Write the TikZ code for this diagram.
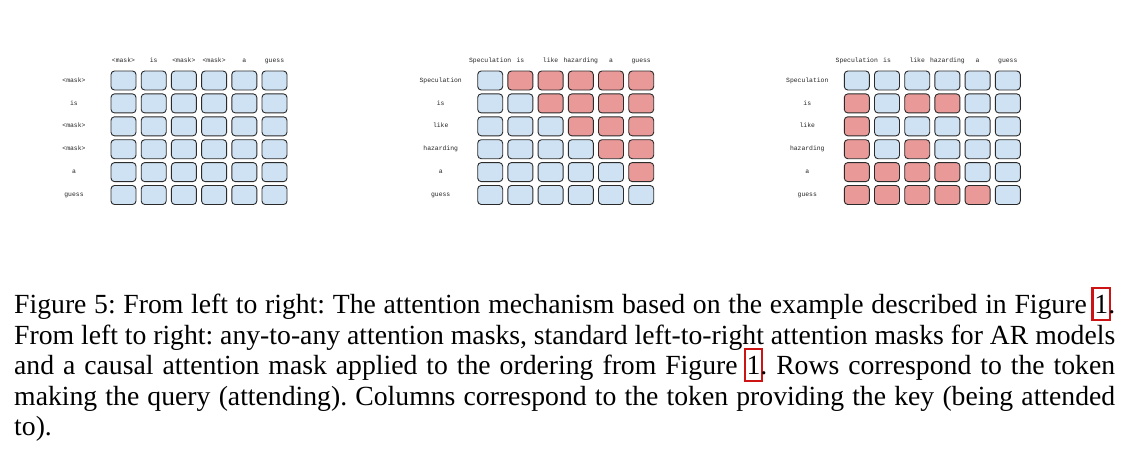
\documentclass[tikz,border=0pt]{standalone}
\usepackage{fontspec}
\setmainfont{Liberation Serif}
\newfontfamily\lblfont{Liberation Mono}
\definecolor{bluec}{HTML}{CFE2F3}
\definecolor{redc}{HTML}{EA9999}
\definecolor{cellline}{HTML}{2B2B2B}
\definecolor{linkred}{HTML}{CC1414}
\makeatletter
\newcommand\setcellfill[3]{\edef\tmpcheck{\noexpand\in@{,#2-#3,}{,#1,}}\tmpcheck
  \ifin@\def\cellcol{redc}\else\def\cellcol{bluec}\fi}
\makeatother
% hyperref-style red link box around a reference number
\newcommand\lnk[1]{\leavevmode\rlap{\kern-3pt\color{linkred}%
  \rlap{\vrule width 19.6pt height 27pt depth -24.8pt}%
  \rlap{\vrule width 19.6pt height -5.4pt depth 7.6pt}%
  \rlap{\vrule width 2.2pt height 27pt depth 7.6pt}%
  \kern17.4pt\vrule width 2.2pt height 27pt depth 7.6pt}#1}
\def\redsA{0-0}
\def\redsB{1-2,1-3,1-4,1-5,1-6,2-3,2-4,2-5,2-6,3-4,3-5,3-6,4-5,4-6,5-6}
\def\redsC{2-1,2-3,2-4,3-1,4-1,4-3,5-1,5-2,5-3,5-4,6-1,6-2,6-3,6-4,6-5}
\def\toksA{<mask>,is,<mask>,<mask>,a,guess}
\def\toksB{Speculation,is,like,hazarding,a,guess}
\tikzset{
  cell/.style={draw=cellline, line width=0.9pt, rounded corners=3.5pt,
    minimum width=25pt, minimum height=19pt, inner sep=0pt},
  lbl/.style={font=\lblfont\fontsize{6.4}{7}\selectfont, inner sep=0pt,
    text height=4.5pt, text depth=1.3pt, text=black!85},
  capline/.style={anchor=base west, inner sep=0pt,
    font=\fontsize{27.7}{30.5}\selectfont\frenchspacing}
}
\begin{document}
\begin{tikzpicture}[x=1pt,y=-1pt]
\useasboundingbox (0,0) rectangle (1133,448);
\fill[white] (0,0) rectangle (1133,448);
\foreach \g/\xo/\reds/\toks in {1/111/\redsA/\toksA, 2/477.7/\redsB/\toksB, 3/844.3/\redsC/\toksB} {
  \foreach \r in {1,...,6} {
    \foreach \c in {1,...,6} {
      \setcellfill{\reds}{\r}{\c}
      \node[cell, fill=\cellcol] (g\g-\r-\c) at ({\xo+12.5+30.2*(\c-1)}, {80.5+22.9*(\r-1)}) {};
    }
  }
  \edef\tlist{\toks}
  \foreach \t [count=\i] in \tlist {
    \node[lbl] (g\g-h\i) at ({\xo+12.5+30.2*(\i-1)}, 60.5) {\t};
    \node[lbl] (g\g-l\i) at ({\xo-37}, {80.5+22.9*(\i-1)}) {\t};
  }
}
\node[capline] (cap1) at (14,313.5) {\makebox[1101pt][s]{Figure 5: From left to right: The attention mechanism based on the example described in Figure~\lnk{1}.}};
\node[capline] (cap2) at (14,344) {\makebox[1101pt][s]{From left to right: any-to-any attention masks, standard left-to-right attention masks for AR models}};
\node[capline] (cap3) at (14,374.5) {\makebox[1101pt][s]{and a causal attention mask applied to the ordering from Figure~\lnk{1}. Rows correspond to the token}};
\node[capline] (cap4) at (14,405) {\makebox[1101pt][s]{making the query (attending). Columns correspond to the token providing the key (being attended}};
\node[capline] (cap5) at (14,435.5) {to).};
\end{tikzpicture}
\end{document}
